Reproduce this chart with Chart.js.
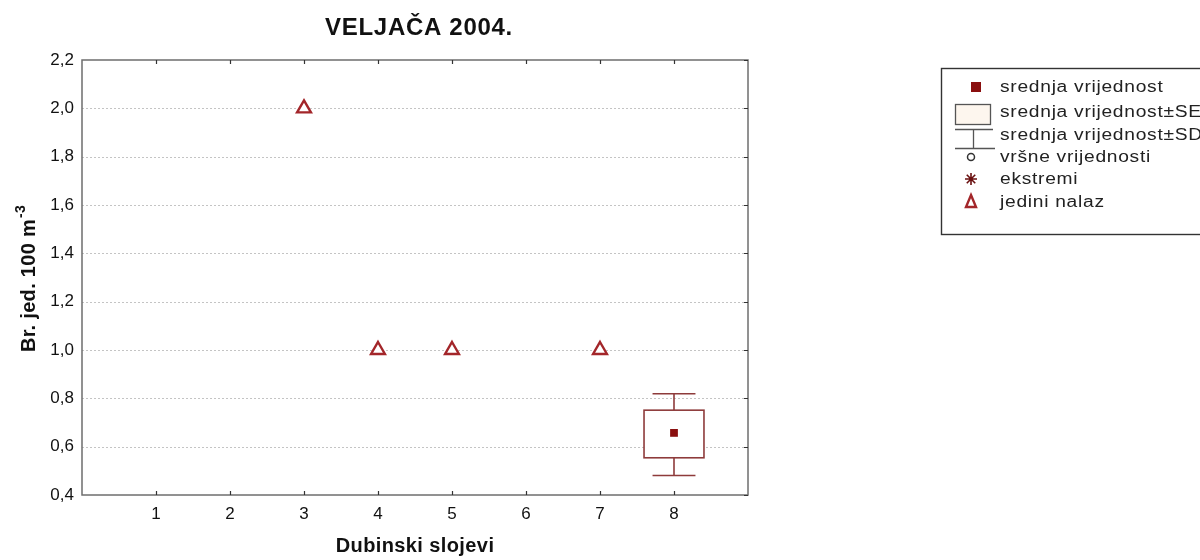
<!DOCTYPE html>
<html>
<head>
<meta charset="utf-8">
<script src="https://cdn.jsdelivr.net/npm/chart.js@4"></script>
<style>
  html, body { margin: 0; padding: 0; background: #fff; overflow: hidden; }
  #wrap { width: 1200px; height: 560px; position: relative; }
</style>
</head>
<body>
<div id="wrap"><canvas id="c" width="1200" height="560"></canvas></div>
<script>
// ---- data ----
const chartTitle = 'VELJAČA 2004.';
const xAxisTitle = 'Dubinski slojevi';
const yAxisTitle = 'Br. jed. 100 m';
const yAxisTitleSup = '-3';
const xTicks = [1, 2, 3, 4, 5, 6, 7, 8];
const yTicks = [0.4, 0.6, 0.8, 1.0, 1.2, 1.4, 1.6, 1.8, 2.0, 2.2];
// single findings (jedini nalaz)
const singleX = [3, 4, 5, 7];
const singleY = [2.0, 1.0, 1.0, 1.0];
// box plot (mean, ±SE, ±SD)
const boxX = [8];
const boxMean = [0.657];
const boxSeLow = [0.554];
const boxSeHigh = [0.751];
const boxSdLow = [0.481];
const boxSdHigh = [0.819];
const legendLabels = ['srednja vrijednost', 'srednja vrijednost±SE', 'srednja vrijednost±SD', 'vršne vrijednosti', 'ekstremi', 'jedini nalaz'];

const DARK_RED = '#8a0f0f';
const TRI_RED = '#a3262a';
const BOX_COL = '#8e3b3b';
const FRAME = '#6e6e6e';
const FONT = '"Liberation Sans", Arial, sans-serif';

const decorPlugin = {
  id: 'decor',
  beforeDatasetsDraw(chart) {
    const { ctx, chartArea: a, scales } = chart;
    const xs = scales.x, ys = scales.y;
    ctx.save();
    // dotted horizontal grid
    ctx.strokeStyle = '#c4c4c4';
    ctx.lineWidth = 1;
    ctx.setLineDash([2, 2]);
    yTicks.forEach(v => {
      const y = Math.round(ys.getPixelForValue(v)) + 0.5;
      if (y <= a.top + 2 || y >= a.bottom - 2) return;
      ctx.beginPath();
      ctx.moveTo(a.left, y);
      ctx.lineTo(a.right, y);
      ctx.stroke();
    });
    ctx.setLineDash([]);
    // box plots
    boxX.forEach((bx, i) => {
      const cx = xs.getPixelForValue(bx);
      const halfBox = (xs.getPixelForValue(bx + 0.405) - cx);
      const halfCap = (xs.getPixelForValue(bx + 0.29) - cx);
      const ySeH = ys.getPixelForValue(boxSeHigh[i]);
      const ySeL = ys.getPixelForValue(boxSeLow[i]);
      const ySdH = ys.getPixelForValue(boxSdHigh[i]);
      const ySdL = ys.getPixelForValue(boxSdLow[i]);
      ctx.strokeStyle = BOX_COL;
      ctx.lineWidth = 1.6;
      ctx.beginPath();
      ctx.moveTo(cx, ySeH); ctx.lineTo(cx, ySdH);
      ctx.moveTo(cx - halfCap, ySdH); ctx.lineTo(cx + halfCap, ySdH);
      ctx.moveTo(cx, ySeL); ctx.lineTo(cx, ySdL);
      ctx.moveTo(cx - halfCap, ySdL); ctx.lineTo(cx + halfCap, ySdL);
      ctx.stroke();
      ctx.fillStyle = '#ffffff';
      ctx.fillRect(cx - halfBox, ySeH, halfBox * 2, ySeL - ySeH);
      ctx.strokeRect(cx - halfBox, ySeH, halfBox * 2, ySeL - ySeH);
    });
    ctx.restore();
  },
  afterDraw(chart) {
    const { ctx, chartArea: a, scales } = chart;
    const xs = scales.x, ys = scales.y;
    ctx.save();
    // frame
    ctx.strokeStyle = FRAME;
    ctx.lineWidth = 1.5;
    ctx.strokeRect(a.left, a.top, a.right - a.left, a.bottom - a.top);
    // inward ticks
    ctx.lineWidth = 1.2;
    ctx.strokeStyle = '#333';
    ctx.beginPath();
    xTicks.forEach(v => {
      const x = Math.round(xs.getPixelForValue(v)) + 0.5;
      ctx.moveTo(x, a.bottom); ctx.lineTo(x, a.bottom - 4);
      ctx.moveTo(x, a.top); ctx.lineTo(x, a.top + 4);
    });
    yTicks.forEach(v => {
      const y = Math.round(ys.getPixelForValue(v)) + 0.5;
      ctx.moveTo(a.right, y); ctx.lineTo(a.right - 4, y);
    });
    ctx.stroke();

    ctx.fillStyle = '#111';
    // title
    ctx.letterSpacing = '0.7px';
    ctx.font = 'bold 24px ' + FONT;
    ctx.textAlign = 'center';
    ctx.textBaseline = 'alphabetic';
    ctx.fillText(chartTitle, (a.left + a.right) / 2 + 4, 35);
    // x axis title
    ctx.letterSpacing = '0.4px';
    ctx.font = 'bold 20px ' + FONT;
    ctx.fillText(xAxisTitle, (a.left + a.right) / 2, 552);
    // y axis title (rotated) with superscript
    ctx.letterSpacing = '0.3px';
    ctx.save();
    ctx.translate(35, 279);
    ctx.rotate(-Math.PI / 2);
    ctx.font = 'bold 20px ' + FONT;
    const w1 = ctx.measureText(yAxisTitle).width;
    ctx.font = 'bold 14px ' + FONT;
    const w2 = ctx.measureText(yAxisTitleSup).width;
    const start = -(w1 + w2) / 2;
    ctx.textAlign = 'left';
    ctx.font = 'bold 20px ' + FONT;
    ctx.fillText(yAxisTitle, start, 0);
    ctx.font = 'bold 14px ' + FONT;
    ctx.fillText(yAxisTitleSup, start + w1 + 1, -10);
    ctx.restore();

    // legend
    const lx = 941, ly = 68, lh = 166;
    ctx.fillStyle = '#ffffff';
    ctx.fillRect(lx, ly, 1200 - lx + 10, lh);
    ctx.strokeStyle = '#333';
    ctx.lineWidth = 1.4;
    ctx.strokeRect(lx + 0.5, ly + 0.5, 1200 - lx + 10, lh);
    const rows = [87, 112, 135, 157, 179, 202];
    ctx.font = '16px ' + FONT;
    ctx.letterSpacing = '0.6px';
    ctx.textAlign = 'left';
    ctx.textBaseline = 'middle';
    ctx.fillStyle = '#222';
    legendLabels.forEach((t, i) => {
      ctx.save();
      ctx.translate(1000, rows[i] + 1);
      ctx.scale(1.2, 1);
      ctx.fillText(t, 0, 0);
      ctx.restore();
    });
    ctx.letterSpacing = '0px';
    // symbol: mean square
    ctx.fillStyle = DARK_RED;
    ctx.fillRect(971, rows[0] - 5, 10, 10);
    // symbol: SE box
    ctx.fillStyle = '#fdf6ee';
    ctx.fillRect(955, 104, 36, 21);
    ctx.strokeStyle = '#555';
    ctx.lineWidth = 1.3;
    ctx.strokeRect(955.5, 104.5, 35, 20);
    // symbol: SD whisker
    ctx.beginPath();
    ctx.moveTo(955, 129.5); ctx.lineTo(993, 129.5);
    ctx.moveTo(973.5, 129.5); ctx.lineTo(973.5, 148.5);
    ctx.moveTo(955, 148.5); ctx.lineTo(995, 148.5);
    ctx.stroke();
    // symbol: circle
    ctx.strokeStyle = '#333';
    ctx.lineWidth = 1.5;
    ctx.beginPath();
    ctx.arc(971, rows[3], 3.5, 0, Math.PI * 2);
    ctx.stroke();
    // symbol: asterisk
    ctx.strokeStyle = '#6a1010';
    ctx.lineWidth = 1.6;
    ctx.beginPath();
    for (let k = 0; k < 4; k++) {
      const ang = k * Math.PI / 4;
      ctx.moveTo(971 - Math.cos(ang) * 6, rows[4] - Math.sin(ang) * 6);
      ctx.lineTo(971 + Math.cos(ang) * 6, rows[4] + Math.sin(ang) * 6);
    }
    ctx.stroke();
    // symbol: triangle
    ctx.strokeStyle = TRI_RED;
    ctx.lineWidth = 2.4;
    ctx.beginPath();
    ctx.moveTo(971, rows[5] - 7);
    ctx.lineTo(976, rows[5] + 5);
    ctx.lineTo(966, rows[5] + 5);
    ctx.closePath();
    ctx.stroke();
    ctx.restore();
  }
};

const singlePoints = singleX.map((x, i) => ({ x: x, y: singleY[i] }));
const meanPoints = boxX.map((x, i) => ({ x: x, y: boxMean[i] }));

const ctxEl = document.getElementById('c');
ctxEl.getContext('2d').letterSpacing = '1px';

new Chart(ctxEl, {
  type: 'scatter',
  data: {
    datasets: [
      {
        label: 'jedini nalaz',
        data: singlePoints,
        pointStyle: 'triangle',
        pointRadius: 8,
        pointHoverRadius: 8,
        pointBorderWidth: 2.4,
        pointBorderColor: TRI_RED,
        pointBackgroundColor: '#ffffff'
      },
      {
        label: 'srednja vrijednost',
        data: meanPoints,
        pointStyle: 'rect',
        pointRadius: 5.5,
        pointHoverRadius: 5.5,
        pointBorderWidth: 0,
        pointBorderColor: DARK_RED,
        pointBackgroundColor: DARK_RED
      }
    ]
  },
  options: {
    responsive: false,
    animation: false,
    events: [],
    layout: { padding: { left: 0, right: 452, top: 60, bottom: 0 } },
    plugins: {
      legend: { display: false },
      title: { display: false },
      tooltip: { enabled: false }
    },
    scales: {
      x: {
        type: 'linear',
        min: 0,
        max: 9,
        afterBuildTicks: s => { s.ticks = xTicks.map(v => ({ value: v })); },
        afterFit: s => { s.height = 65; },
        grid: { display: false, drawTicks: false },
        border: { display: false },
        ticks: {
          color: '#111',
          font: { family: FONT, size: 17 },
          padding: 9,
          maxRotation: 0,
          autoSkip: false,
          callback: v => String(v)
        }
      },
      y: {
        type: 'linear',
        min: 0.4,
        max: 2.2,
        afterBuildTicks: s => { s.ticks = yTicks.map(v => ({ value: v })); },
        afterFit: s => { s.width = 82; },
        grid: { display: false, drawTicks: false },
        border: { display: false },
        ticks: {
          color: '#111',
          font: { family: FONT, size: 17 },
          padding: 8,
          autoSkip: false,
          callback: v => Number(v).toFixed(1).replace('.', ',')
        }
      }
    }
  },
  plugins: [decorPlugin]
});
</script>
</body>
</html>
